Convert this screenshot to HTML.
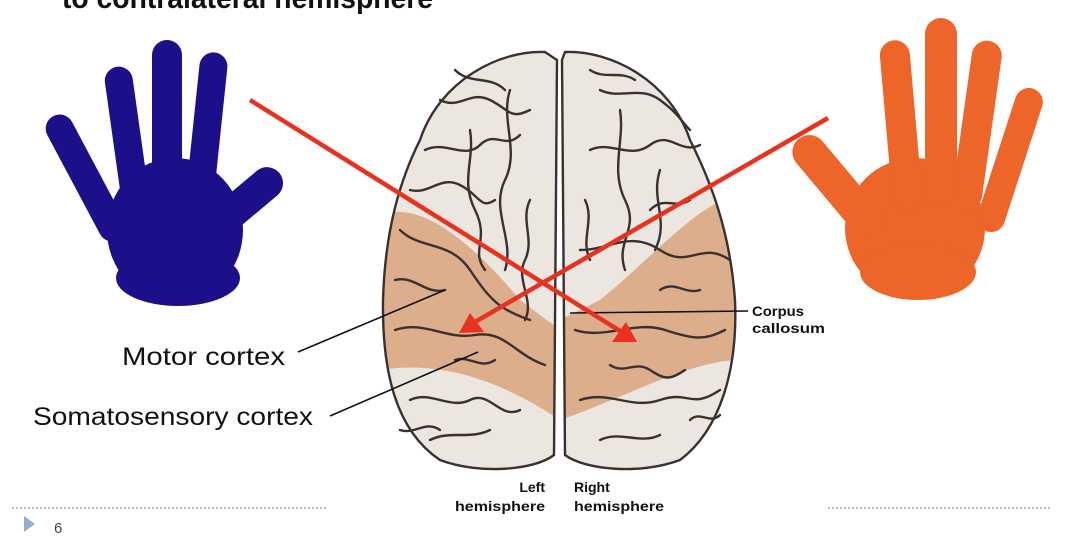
<!DOCTYPE html>
<html><head><meta charset="utf-8"><style>
html,body{margin:0;padding:0;background:#fff;width:1078px;height:538px;overflow:hidden}
svg{display:block}
</style></head><body>
<svg width="1078" height="538" viewBox="0 0 1078 538" xmlns="http://www.w3.org/2000/svg">
<defs>
<clipPath id="lh"><path d="M545,52 C500,50 440,80 420,140 C400,180 385,230 383,300 C382,370 395,430 440,460 C480,475 535,470 554,455 L557,60 Z"/></clipPath>
<clipPath id="rh"><path d="M565,52 C610,50 670,80 690,140 C710,180 730,230 735,300 C738,370 720,430 680,460 C640,475 585,470 565,455 L562,60 Z"/></clipPath>
</defs>
<text x="62" y="8" font-family="Liberation Sans, sans-serif" font-weight="bold" font-size="30" fill="#111" textLength="371" lengthAdjust="spacingAndGlyphs">to contralateral hemisphere</text>
<!-- left hand -->
<g fill="#1c0f8a">
<ellipse cx="175" cy="230" rx="68" ry="72"/>
<rect x="152" y="40" width="30" height="180" rx="15"/>
<rect x="192" y="52" width="28" height="170" rx="14" transform="rotate(6 206 137)"/>
<rect x="114" y="66" width="28" height="160" rx="14" transform="rotate(-8 128 146)"/>
<rect x="72" y="108" width="28" height="140" rx="14" transform="rotate(-28 86 178)"/>
<rect x="225" y="155" width="32" height="100" rx="16" transform="rotate(50 241 205)"/>
<ellipse cx="178" cy="278" rx="62" ry="28"/>
</g>
<!-- right hand -->
<g fill="#ee6529">
<ellipse cx="915" cy="228" rx="70" ry="70"/>
<rect x="925" y="18" width="32" height="190" rx="16"/>
<rect x="886" y="40" width="30" height="170" rx="15" transform="rotate(-5 901 125)"/>
<rect x="962" y="40" width="30" height="170" rx="15" transform="rotate(8 977 125)"/>
<rect x="996" y="85" width="28" height="150" rx="14" transform="rotate(18 1010 160)"/>
<rect x="820" y="125" width="34" height="120" rx="17" transform="rotate(-40 837 185)"/>
<ellipse cx="918" cy="272" rx="58" ry="28"/>
</g>
<!-- brain -->
<g clip-path="url(#lh)">
<rect x="380" y="45" width="180" height="430" fill="#ece6e1"/>
<path d="M380,215 C420,200 470,240 520,300 L560,330 L560,420 C500,380 440,360 380,370 Z" fill="#dcae8c"/>
</g>
<g clip-path="url(#rh)">
<rect x="560" y="45" width="180" height="430" fill="#ece6e1"/>
<path d="M740,195 C700,200 650,260 600,300 L560,320 L560,420 C620,400 690,360 740,360 Z" fill="#dcae8c"/>
</g>
<g fill="none" stroke="#3a3030" stroke-width="2.4" stroke-linecap="round">
<path d="M545,52 C500,50 440,80 420,140 C400,180 385,230 383,300 C382,370 395,430 440,460 C480,475 535,470 554,455 L557,60 Z"/>
<path d="M565,52 C610,50 670,80 690,140 C710,180 730,230 735,300 C738,370 720,430 680,460 C640,475 585,470 565,455 L562,60 Z"/>
<path d="M440,100 c20,10 30,-10 50,0 s20,20 40,10"/><path d="M425,150 c20,-10 40,10 55,-5 s25,5 40,-10"/>
<path d="M470,130 c5,30 -10,50 5,80 s-5,40 10,60"/><path d="M510,90 c-10,30 10,60 -5,90 s10,60 0,90"/>
<path d="M400,230 c20,20 50,10 70,40 s30,40 60,50"/><path d="M395,330 c30,-10 50,10 80,5 s40,20 70,30"/>
<path d="M410,400 c20,-10 40,10 60,0 s30,20 50,10"/><path d="M430,440 c20,-10 40,0 60,-10"/>
<path d="M455,70 c15,15 35,5 50,20"/><path d="M410,190 c20,5 30,-15 50,-5 s20,25 35,15"/>
<path d="M395,280 c20,-5 30,15 50,10"/><path d="M455,360 c15,-5 25,10 40,0"/><path d="M400,430 c15,5 25,-10 40,0"/>
<path d="M530,200 c-10,20 5,40 -5,60 s10,40 0,60"/>
<path d="M600,90 c20,10 40,-5 60,10 s20,20 30,30"/><path d="M590,150 c20,-10 40,10 60,-5 s30,10 50,0"/>
<path d="M620,110 c5,30 -10,60 5,90 s-10,40 0,70"/><path d="M660,170 c-10,30 10,50 -5,80"/>
<path d="M580,250 c30,0 50,-20 80,0 s40,-10 70,10"/><path d="M575,330 c30,10 60,-10 90,0 s40,10 60,0"/>
<path d="M580,400 c30,-10 50,10 80,0 s30,10 60,-10"/><path d="M600,440 c20,-10 40,5 60,-5"/>
<path d="M590,70 c15,10 30,0 45,10"/><path d="M690,200 c-15,10 -25,-5 -40,10"/><path d="M700,290 c-15,5 -25,-10 -40,0"/>
<path d="M585,200 c10,20 -5,40 5,60"/><path d="M610,365 c15,10 25,-5 40,5 s20,10 35,0"/><path d="M690,420 c10,-10 20,5 30,-5"/>
</g>
<!-- pointer lines -->
<g stroke="#111" stroke-width="1.6">
<line x1="298" y1="352" x2="445" y2="290"/>
<line x1="330" y1="416" x2="478" y2="352"/>
<line x1="570" y1="313" x2="748" y2="311"/>
</g>
<!-- red arrows -->
<g stroke="#e8321e" stroke-width="4.5" fill="none">
<line x1="250" y1="100" x2="628" y2="336"/>
<line x1="828" y1="118" x2="468" y2="326"/>
</g>
<polygon points="637,342 612,342 626,322" fill="#e8321e"/>
<polygon points="459,333 470,313 484,332" fill="#e8321e"/>
<g font-family="Liberation Sans, sans-serif" fill="#111">
<text x="122" y="365" font-size="25" textLength="163" lengthAdjust="spacingAndGlyphs">Motor cortex</text>
<text x="33" y="425" font-size="25" textLength="280" lengthAdjust="spacingAndGlyphs">Somatosensory cortex</text>
<text x="752" y="316" font-size="14" font-weight="bold" textLength="52" lengthAdjust="spacingAndGlyphs">Corpus</text>
<text x="752" y="333" font-size="14" font-weight="bold" textLength="73" lengthAdjust="spacingAndGlyphs">callosum</text>
<text x="545" y="492" font-size="14" font-weight="bold" text-anchor="end">Left</text>
<text x="455" y="511" font-size="14" font-weight="bold" textLength="90" lengthAdjust="spacingAndGlyphs">hemisphere</text>
<text x="574" y="492" font-size="14" font-weight="bold">Right</text>
<text x="574" y="511" font-size="14" font-weight="bold" textLength="90" lengthAdjust="spacingAndGlyphs">hemisphere</text>
<text x="54" y="533" font-size="15" fill="#444">6</text>
</g>
<g stroke="#8a98b8" stroke-width="1.3" stroke-dasharray="2,2">
<line x1="12" y1="508" x2="328" y2="508"/>
<line x1="828" y1="508" x2="1052" y2="508"/>
</g>
<polygon points="24,516 35,524 24,532" fill="#8fb0d0"/>
</svg>
</body></html>
